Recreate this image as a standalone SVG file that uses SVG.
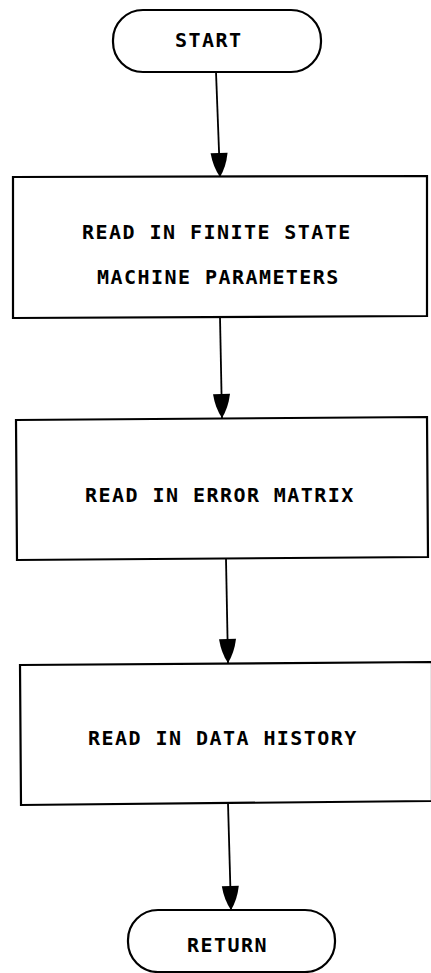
<svg xmlns="http://www.w3.org/2000/svg" width="431" height="973" viewBox="0 0 431 973">
  <style>
    .shape { fill: #ffffff; stroke: #000000; stroke-width: 2.2; }
    .flow { fill: none; stroke: #000000; stroke-width: 1.8; }
    .label { font-family: "DejaVu Sans Mono", "Liberation Mono", monospace; font-size: 20px; font-weight: bold; letter-spacing: 1.45px; fill: #000000; }
  </style>
  <defs>
    <!-- tapered arrowhead, tip at the end of the line -->
    <marker id="head" viewBox="-26 -10 28 20" refX="0" refY="0" markerWidth="28" markerHeight="20" markerUnits="userSpaceOnUse" orient="auto">
      <path d="M0,0 Q-10,-6.5 -24,-8.5 L-24,8.5 Q-10,6.5 0,0 Z" fill="#000000"/>
    </marker>
  </defs>

  <rect width="431" height="973" fill="#ffffff"/>

  <g id="connectors">
    <line class="flow" x1="216" y1="72" x2="220" y2="177" marker-end="url(#head)"/>
    <line class="flow" x1="220" y1="317" x2="222" y2="418" marker-end="url(#head)"/>
    <line class="flow" x1="226" y1="559" x2="228" y2="663" marker-end="url(#head)"/>
    <line class="flow" x1="228" y1="803" x2="231" y2="910" marker-end="url(#head)"/>
  </g>

  <g id="start">
    <rect class="shape" x="113" y="10" width="208" height="62" rx="30" ry="30"/>
    <text class="label" x="175" y="47">START</text>
  </g>

  <g id="read-fsm">
    <path class="shape" d="M13,177 L427,176 L427,316 L13,318 Z"/>
    <text class="label" x="82" y="239">READ IN FINITE STATE</text>
    <text class="label" x="97" y="284">MACHINE PARAMETERS</text>
  </g>

  <g id="read-error">
    <path class="shape" d="M16,420 L427,417 L428,557 L17,560 Z"/>
    <text class="label" x="85" y="502">READ IN ERROR MATRIX</text>
  </g>

  <g id="read-data">
    <path class="shape" d="M20,665 L432,662 L432,801 L21,805 Z"/>
    <text class="label" x="88" y="745">READ IN DATA HISTORY</text>
  </g>

  <g id="return">
    <rect class="shape" x="128" y="910" width="207" height="62" rx="30" ry="30"/>
    <text class="label" x="187" y="952">RETURN</text>
  </g>
</svg>
